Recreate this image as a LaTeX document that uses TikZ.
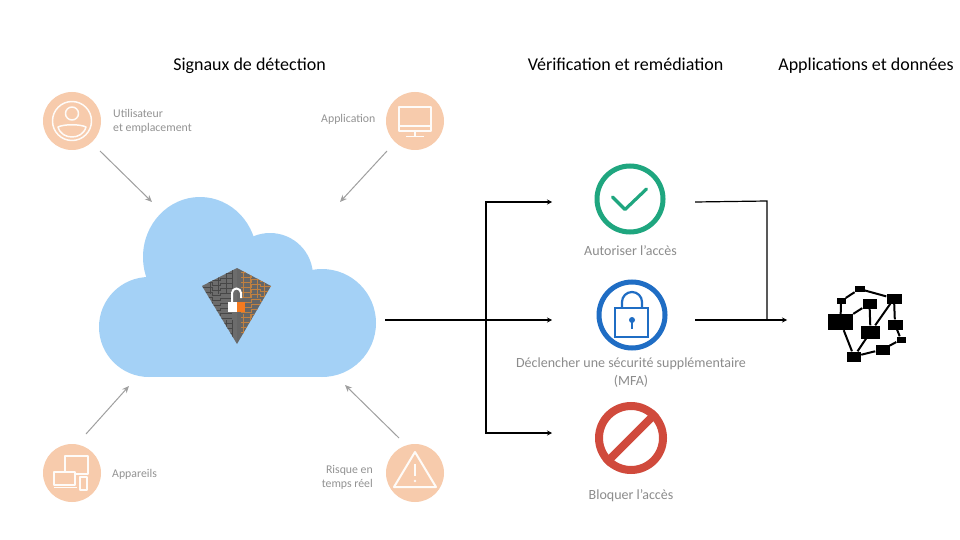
\documentclass[tikz,border=0pt]{standalone}
\usepackage{fontspec}
\usetikzlibrary{arrows.meta}
\setmainfont{Carlito}
\definecolor{peach}{HTML}{F7CBAC}
\definecolor{skyblue}{HTML}{A4D1F6}
\definecolor{okgreen}{HTML}{1FA67F}
\definecolor{mfablue}{HTML}{1F6DC4}
\definecolor{stopred}{HTML}{D04A3C}
\definecolor{lockorange}{HTML}{F47A20}
\begin{document}
\begin{tikzpicture}[x=1pt,y=-1pt]

%-------------------------------------------------
% Styles
%-------------------------------------------------
\tikzset{
  heading/.style={font=\fontsize{18}{21}\selectfont, text=black, inner sep=0pt, anchor=base},
  signal/.style={circle, fill=peach, minimum size=58pt, inner sep=0pt},
  small_label/.style={font=\fontsize{11.8}{14.5}\selectfont, text=gray!85, inner sep=0pt, align=left},
  verdict/.style={font=\fontsize{14}{18}\selectfont, text=gray!90, inner sep=0pt, align=center},
  ring/.style={circle, line width=5pt, minimum size=66pt, inner sep=0pt},
  glyph/.style={draw=white!92!peach, line width=1.5pt, line join=round},
  feed/.style={draw=gray!75, line width=1pt, -{Stealth[length=7pt,width=6pt]}},
  flow/.style={draw=black, line width=1.2pt, -{Stealth[length=5pt,width=5pt]}},
  flowline/.style={draw=black, line width=1.2pt},
  hub/.style={fill=black, inner sep=0pt},
  link/.style={draw=black, line width=2pt},
  mazedark/.style={draw=black!72, line width=0.6pt},
  mazewarm/.style={draw=orange!50!gray, line width=0.6pt}
}
\useasboundingbox (0,0) rectangle (960,540);
\fill[white] (0,0) rectangle (960,540);

%-------------------------------------------------
% Headings
%-------------------------------------------------
\node[heading] (sigTitle) at (249.5,71) {Signaux de détection};
\node[heading] (verTitle) at (625.5,71) {Vérification et remédiation};
\node[heading] (appTitle) at (866,70.5) {Applications et données};

%-------------------------------------------------
% Cloud
%-------------------------------------------------
\fill[skyblue] (149,327) circle (50);
\fill[skyblue] (200,257) ellipse (57 and 60);
\fill[skyblue] (270,276) circle (43);
\fill[skyblue] (322,323) circle (54);
\fill[skyblue] (149,280) rectangle (322,377);

% Shield
\begin{scope}
\clip (237,268) -- (271,286) -- (237,344) -- (202,286) -- cycle;
\fill[gray!85!black] (195,260) rectangle (237,350);
\fill[black!60] (237,260) rectangle (280,350);
\foreach \y in {272,277,...,342} {
  \draw[mazedark] (200,\y) -- ++(12,0) -- ++(0,3) -- ++(8,0) -- ++(0,-2) -- ++(12,0);
  \draw[mazewarm] (241,\y) -- ++(10,0) -- ++(0,-3) -- ++(9,0) -- ++(0,2) -- ++(12,0);
}
\foreach \x in {210,218,226,232} {
  \draw[mazedark] (\x,268) -- (\x,294);
  \draw[mazedark] (\x,320) -- (\x,343);
}
\foreach \x in {243,250,257,264} {
  \draw[mazewarm] (\x,268) -- (\x,298);
  \draw[mazewarm] (\x,314) -- (\x,343);
}
\end{scope}

% Padlock
\draw[white, line width=2pt] (232,303) -- (232,293) arc[start angle=180, end angle=360, radius=4.5] -- (241,298);
\fill[white] (228,302) rectangle (236.5,312);
\fill[lockorange] (236.5,302) rectangle (244.5,312);

%-------------------------------------------------
% Signals
%-------------------------------------------------
\node[signal] (user) at (72,121) {};
\node[signal] (app) at (415,121) {};
\node[signal] (device) at (72,473) {};
\node[signal] (risk) at (415,473) {};

\node[small_label, anchor=west] (userText) at (113,121.5) {Utilisateur\\et emplacement};
\node[small_label, anchor=east] (appText) at (375.5,119.5) {Application};
\node[small_label, anchor=west] (deviceText) at (112,474.5) {Appareils};
\node[small_label, anchor=east, align=right] (riskText) at (373,477.5) {Risque en\\temps réel};

% User glyph
\draw[glyph] (72,121) circle (19.5);
\draw[glyph] (72,113.5) circle (6.5);
\draw[glyph] (58,127) .. controls (64,124) and (80,124) .. (86,127) .. controls (84,134) and (78,137) .. (72,137) .. controls (66,137) and (60,134) .. (58,127) -- cycle;

% Application glyph
\draw[glyph] (399,107) rectangle (431,131);
\draw[glyph] (399,126) -- (431,126);
\draw[glyph] (415,131) -- (415,136);
\draw[glyph] (406,136.5) -- (424,136.5);

% Device glyph
\draw[glyph] (65,456) rectangle (88,474);
\draw[glyph, fill=peach] (54,472) rectangle (75,485);
\draw[glyph] (54,487.5) -- (77,487.5);
\draw[glyph, fill=peach] (80,477) rectangle (87,490);

% Risk glyph
\draw[glyph, line width=2pt] (415,452) -- (394,487) -- (436,487) -- cycle;
\draw[white!92!peach, line width=2.4pt] (415,464) -- (415,476);
\fill[white!92!peach] (415,481) circle (1.4);

% Arrows into the cloud
\coordinate (userEnd) at (152,202);
\coordinate (appEnd) at (340,202);
\coordinate (deviceEnd) at (129,386);
\coordinate (riskEnd) at (345,385);
\coordinate (userStart) at (100,151);
\coordinate (appStart) at (387,151);
\coordinate (deviceStart) at (86,434);
\coordinate (riskStart) at (399,438);
\draw[feed] (userStart) -- (userEnd);
\draw[feed] (appStart) -- (appEnd);
\draw[feed] (deviceStart) -- (deviceEnd);
\draw[feed] (riskStart) -- (riskEnd);

%-------------------------------------------------
% Verdicts
%-------------------------------------------------
\node[ring, draw=okgreen] (allow) at (630,199) {};
\draw[okgreen, line width=3.2pt, line cap=round, line join=round] (612.5,197) -- (625,209.5) -- (646.5,189);
\node[verdict] (allowText) at (630.5,250.5) {Autoriser l’accès};

\node[ring, draw=mfablue] (mfa) at (632,315) {};
\draw[mfablue, line width=2.2pt] (615,308) rectangle (648,337);
\draw[mfablue, line width=2.2pt] (622,308) -- (622,302) arc[start angle=180, end angle=360, radius=10] -- (642,308);
\fill[mfablue] (632,320) circle (3);
\draw[mfablue, line width=1.6pt] (632,320) -- (632,329);
\node[verdict] (mfaText) at (631,373) {Déclencher une sécurité supplémentaire\\(MFA)};

\node[ring, draw=stopred, line width=8pt, minimum size=64pt] (block) at (631,438) {};
\draw[stopred, line width=8pt] (block.south west) -- (block.north east);
\node[verdict] (blockText) at (631,495.5) {Bloquer l’accès};

%-------------------------------------------------
% Flow lines
%-------------------------------------------------
\coordinate (cloudOut) at (385,320);
\coordinate (split) at (486,320);
\coordinate (allowIn) at (552,202);
\coordinate (mfaIn) at (552,320);
\coordinate (blockIn) at (552,433);
\coordinate (allowOut) at (695,202);
\coordinate (mfaOut) at (695,320);
\coordinate (join) at (767,320);
\coordinate (netIn) at (787,320);

\draw[flow] (cloudOut) -- (mfaIn);
\draw[flow] (split) |- (allowIn);
\draw[flow] (split) |- (blockIn);
\draw[flowline] (allowOut) -- (767,201) -- (join);
\draw[flow] (mfaOut) -- (netIn);

%-------------------------------------------------
% Network icon
%-------------------------------------------------
\node[hub, minimum width=25pt, minimum height=16pt] (netA) at (840.5,322) {};
\node[hub, minimum width=10pt, minimum height=6pt] (netB) at (859.5,289) {};
\node[hub, minimum width=9pt, minimum height=6pt] (netC) at (841,301) {};
\node[hub, minimum width=14pt, minimum height=10pt] (netD) at (869.5,303.5) {};
\node[hub, minimum width=15pt, minimum height=10pt] (netE) at (894,298.5) {};
\node[hub, minimum width=19pt, minimum height=13pt] (netF) at (870.5,332) {};
\node[hub, minimum width=15pt, minimum height=10pt] (netG) at (895,324.5) {};
\node[hub, minimum width=9pt, minimum height=6pt] (netH) at (901,339.5) {};
\node[hub, minimum width=14pt, minimum height=10pt] (netI) at (882.5,349.5) {};
\node[hub, minimum width=14pt, minimum height=10pt] (netJ) at (854,356.5) {};

\foreach \a/\b in {C/B, B/E, C/A, A/D, D/F, E/F, E/G, G/H, H/I, I/J, J/F, J/A} {
  \draw[link] (net\a) -- (net\b);
}

\end{tikzpicture}
\end{document}
